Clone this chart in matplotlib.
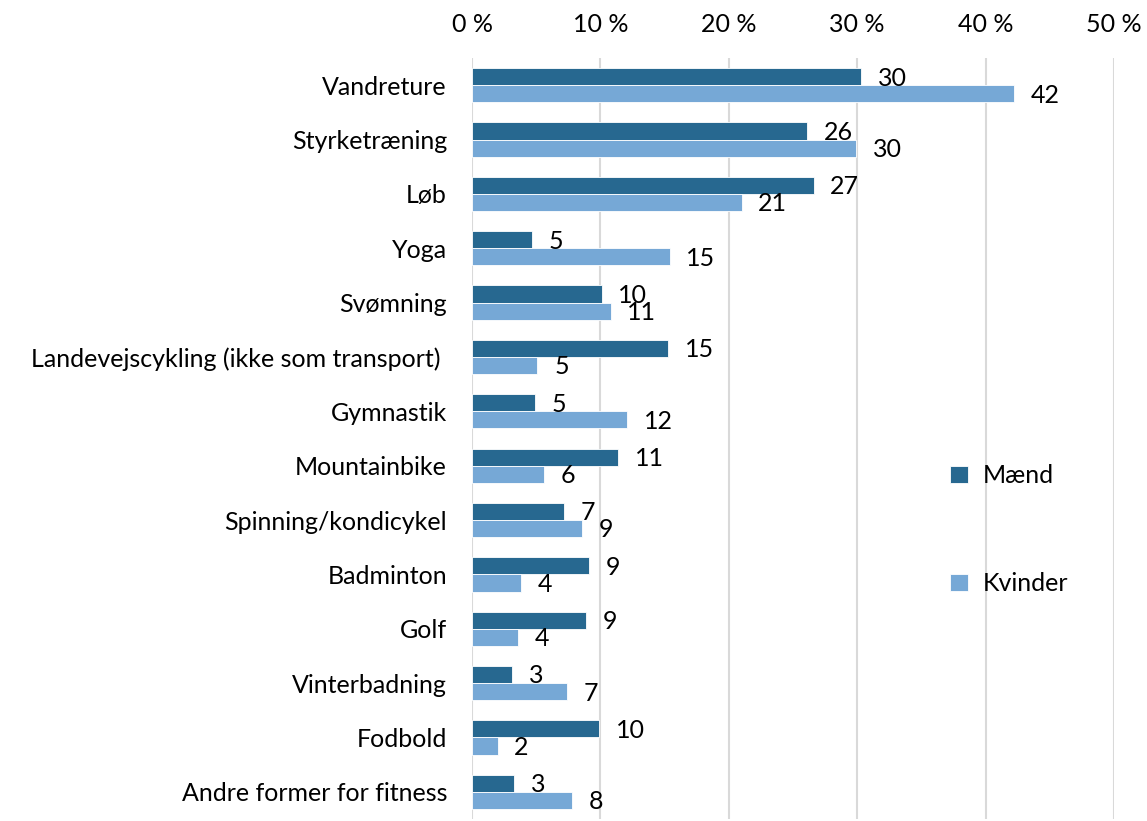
import numpy as np
import matplotlib.pyplot as plt
from matplotlib.ticker import FuncFormatter

plt.rcParams['font.family'] = ['Lato', 'DejaVu Sans']

categories = ['Vandreture', 'Styrketræning', 'Løb', 'Yoga', 'Svømning',
              'Landevejscykling (ikke som transport) ', 'Gymnastik', 'Mountainbike',
              'Spinning/kondicykel', 'Badminton', 'Golf', 'Vinterbadning',
              'Fodbold', 'Andre former for fitness']
maend = [30.3, 26.1, 26.6, 4.7, 10.1, 15.3, 4.9, 11.4, 7.2, 9.1, 8.9, 3.1, 9.9, 3.3]
kvinder = [42.2, 29.9, 21.0, 15.4, 10.8, 5.1, 12.1, 5.6, 8.6, 3.8, 3.6, 7.4, 2.0, 7.8]

c_maend = '#276890'
c_kvinder = '#76A8D6'

fig = plt.figure(figsize=(11.47, 8.21), dpi=100)
ax = fig.add_axes([472 / 1147, 1 - 819 / 821, (1114 - 472) / 1147, (819 - 58) / 821])

y = np.arange(len(categories))
h = 0.315
ax.barh(y - h / 2, maend, height=h, color=c_maend, edgecolor='white', linewidth=0.6,
        label='Mænd', zorder=3)
ax.barh(y + h / 2, kvinder, height=h, color=c_kvinder, edgecolor='white', linewidth=0.6,
        label='Kvinder', zorder=3)

fs = 18
for yi, v in zip(y, maend):
    ax.annotate(f'{round(v)}', (v, yi - h / 2), xytext=(12, -1), textcoords='offset points',
                ha='left', va='center', fontsize=fs)
for yi, v in zip(y, kvinder):
    ax.annotate(f'{round(v)}', (v, yi + h / 2), xytext=(12, -1), textcoords='offset points',
                ha='left', va='center', fontsize=fs)

ax.set_xlim(0, 50)
ax.set_ylim(len(categories) - 0.5, -0.5)
ax.set_xticks(np.arange(0, 51, 10))
ax.xaxis.set_major_formatter(FuncFormatter(lambda v, p: f'{int(v)} %'))
ax.xaxis.tick_top()
ax.set_yticks(y)
ax.set_yticklabels(categories)
ax.tick_params(axis='both', length=0, labelsize=fs)
ax.tick_params(axis='x', pad=16)
ax.tick_params(axis='y', pad=18)
ax.grid(axis='x', color='#d9d9d9', linewidth=1.5, zorder=0)
for s in ax.spines.values():
    s.set_visible(False)

ax.legend(loc='center left', bbox_to_anchor=(0.71, 0.38), frameon=False, fontsize=fs,
          labelspacing=3.4, handlelength=0.7, handleheight=0.7, handletextpad=0.6)

fig.savefig('out.png', dpi=100)
